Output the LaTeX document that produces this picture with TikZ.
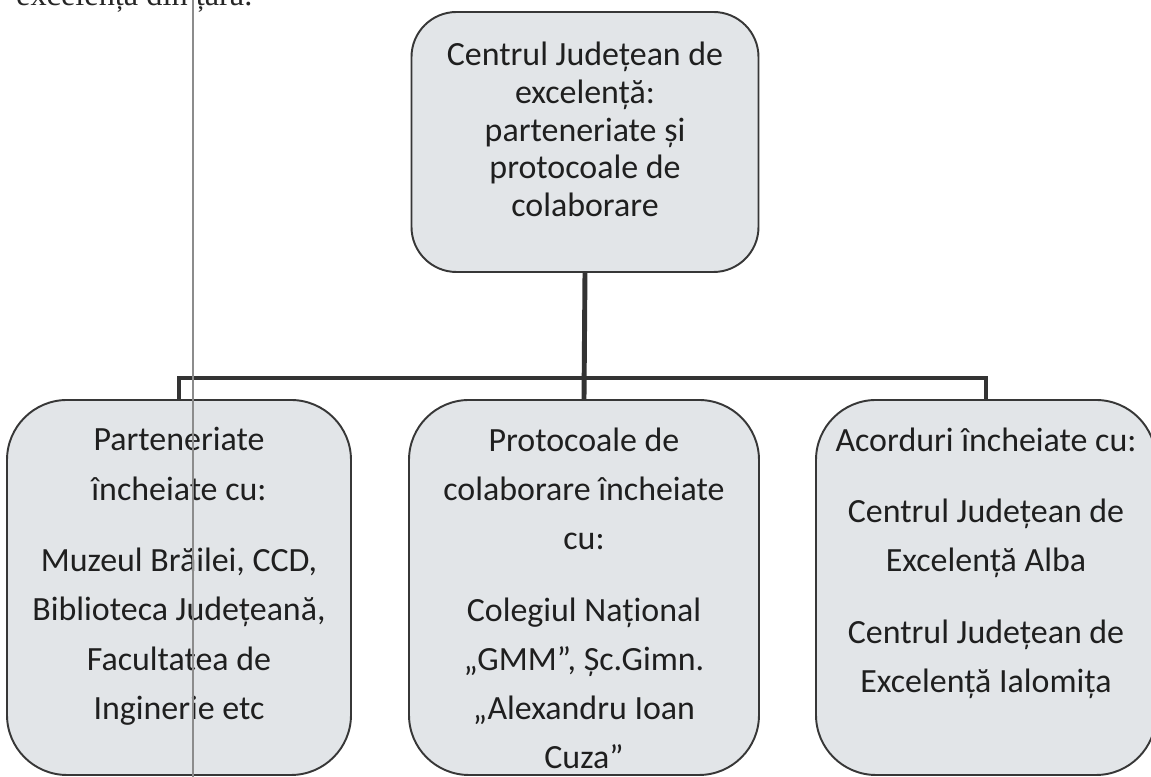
\documentclass[tikz,border=0pt]{standalone}
\usepackage{fontspec}
\setmainfont{Carlito}
\newfontfamily\pageserif{Liberation Serif}
\definecolor{boxfill}{RGB}{226,229,232}
\definecolor{edgegray}{RGB}{55,55,55}
\begin{document}
\begin{tikzpicture}[
  box/.style={draw=edgegray, line width=1.1pt, fill=boxfill, rounded corners=0.9cm, inner sep=0pt, text=black!88},
  lowbox/.style={box, rounded corners=1.2cm},
  link/.style={draw=black!80, line width=2.8pt},
  scanline/.style={draw=black!45, line width=1.1pt},
]
\useasboundingbox (0,0) rectangle (23.02,15.54);
%\fill[white] (0,0) rectangle (23.02,15.54);
\node[anchor=base west, font=\pageserif\fontsize{18.4}{22}\selectfont, text=black!85] (prevline) at (0.2,15.43) {excelența din țară.};
\node[box] (centru) at (11.70,12.70) {\parbox[c][5.2cm][t]{6.94cm}{\centering\fontsize{19.3}{21.5}\selectfont\vspace*{0.6cm}Centrul Județean de\\ excelență:\\ parteneriate și\\ protocoale de\\ colaborare}};
\node[lowbox] (parteneriate) at (3.58,3.79) {\parbox[c][7.5cm][t]{6.88cm}{\centering\fontsize{19.3}{28}\selectfont\vspace*{0.55cm}Parteneriate\\ încheiate cu:\\[0.45cm] Muzeul Brăilei, CCD,\\ Biblioteca Județeană,\\ Facultatea de\\ Inginerie etc}};
\node[lowbox] (protocoale) at (11.68,3.79) {\parbox[c][7.5cm][t]{7.0cm}{\centering\fontsize{19.3}{28}\selectfont\vspace*{0.55cm}Protocoale de\\ colaborare încheiate\\ cu:\\[0.45cm] Colegiul Național\\ „GMM”, Șc.Gimn.\\ „Alexandru Ioan\\ Cuza”}};
\node[lowbox] (acorduri) at (19.72,3.79) {\parbox[c][7.5cm][t]{6.8cm}{\centering\fontsize{19.3}{28}\selectfont\vspace*{0.55cm}Acorduri încheiate cu:\\[0.45cm] Centrul Județean de\\ Excelență Alba\\[0.45cm] Centrul Județean de\\ Excelență Ialomița}};
\coordinate (bar) at (0,7.98);
\draw[link] (centru.south) -- (protocoale.north);
\draw[link] (parteneriate.north) -- (parteneriate.north |- bar) -- (acorduri.north |- bar) -- (acorduri.north);
\draw[scanline] (3.86,0) -- (3.86,15.54);
\end{tikzpicture}
\end{document}
